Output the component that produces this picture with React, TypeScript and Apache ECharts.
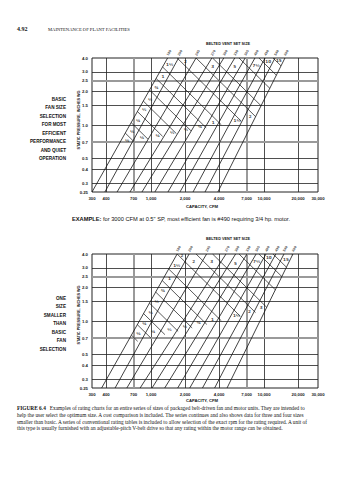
import React, { useEffect, useRef } from "react";
import * as echarts from "echarts";

// ---------- data ----------
const cfmTicks = [300, 400, 700, 1000, 2000, 4000, 7000, 10000, 20000, 30000];
const spTicks = [4.0, 3.0, 2.5, 2.0, 1.5, 1.0, 0.7, 0.5, 0.4, 0.3, 0.25];
const cfmGridLines = [400, 700, 1000, 2000, 4000, 7000, 10000, 20000];
const spGridLines = [3.0, 2.5, 2.0, 1.5, 1.0, 0.7, 0.5, 0.4, 0.3];
const heavyCfmLines = [700, 7000];
const heavySpLines = [2.5, 0.7];

const fanSizes = ["180", "200", "245", "270", "300", "330", "365", "400", "490", "540", "600"];

// basic selection chart: each fan line runs from (bottom CFM @ 0.25") to (top CFM @ 4.0")
const basicFanTopCfm = [1400, 1750, 2500, 3450, 4400, 5500, 6800, 8300, 10200, 12500, 15300];
const basicFanBottomCfm = [300, 390, 500, 650, 830, 1080, 1410, 1800, 2350, 3000, 3900];
const basicRegionFloor = [[510, 0.66], [8300, 1.15]];

// one size smaller chart
const smallerFanTopCfm = [1700, 2170, 3100, 4600, 5600, 7050, 8500, 10400, 12700, 15000, 18000];
const smallerFanBottomCfm = [365, 480, 610, 800, 1020, 1320, 1720, 2200, 2850, 3650, 4700];
const smallerRegionFloor = [[600, 0.62], [10200, 1.25]];

// motor hp limits, expressed as CFM x SP product at the limit line
const hpLabels = ["⅛", "⅙", "¼", "⅓", "½", "¾", "1", "1½", "2", "3", "5", "7½", "10", "15"];
const hpLimitCfmSp = [500, 700, 1000, 1400, 2000, 2900, 4200, 6800, 10000, 14000, 24000, 36000, 48000, 70000];

const captionLines = [
  "Examples of rating charts for an entire series of sizes of packaged belt-driven fan and motor units. They are intended to",
  "help the user select the optimum size. A cost comparison is included. The series continues and also shows data for three and four sizes",
  "smaller than basic. A series of conventional rating tables is included to allow selection of the exact rpm for the rating required. A unit of",
  "this type is usually furnished with an adjustable-pitch V-belt drive so that any rating within the motor range can be obtained.",
];

// ---------- geometry helpers (log space) ----------
const L = (x: number) => Math.log10(x);
const V_MAX = L(4);
const V_MIN = L(0.25);

type Fan = { ub: number; ut: number };
const fanS = (f: Fan) => (f.ut - f.ub) / (V_MAX - V_MIN);
const fanU = (f: Fan, v: number) => f.ub + fanS(f) * (v - V_MIN);
const fanMeetsHp = (f: Fan, w: number) => {
  const s = fanS(f);
  return (w - f.ub + s * V_MIN) / (1 + s);
};

function buildPanel(topCfm: number[], bottomCfm: number[], floor: number[][]) {
  const fans: Fan[] = topCfm.map((t, i) => ({ ub: L(bottomCfm[i]), ut: L(t) }));
  const uA = L(floor[0][0]);
  const vA = L(floor[0][1]);
  const uB = L(floor[1][0]);
  const vB = L(floor[1][1]);
  const m = (vB - vA) / (uB - uA);
  const floorMeetsHp = (w: number) => {
    const u = (w - vA + m * uA) / (1 + m);
    return w - u;
  };
  const fanMeetsFloor = (f: Fan) => {
    const s = fanS(f);
    return (vA + m * (f.ub - s * V_MIN - uA)) / (1 - m * s);
  };

  const fanLines = fans.map((f) => ({ coords: [[f.ub, V_MIN], [f.ut, V_MAX]] }));
  const left = fans[0];
  const right = fans[fans.length - 1];
  const ws = hpLimitCfmSp.map(L);
  const hpLines: any[] = [];
  ws.forEach((w) => {
    const vStart = Math.min(fanMeetsHp(left, w), V_MAX);
    const vEnd = Math.max(fanMeetsHp(right, w), floorMeetsHp(w), V_MIN);
    if (vStart > vEnd + 1e-6) hpLines.push({ coords: [[w - vStart, vStart], [w - vEnd, vEnd]] });
  });

  type Piece = { u: number; v: number; k: number };
  const bands: Piece[][] = [];
  for (let i = 0; i < fans.length - 1; i++) {
    const mid: Fan = { ub: (fans[i].ub + fans[i + 1].ub) / 2, ut: (fans[i].ut + fans[i + 1].ut) / 2 };
    const vBot = Math.max(fanMeetsFloor(mid), V_MIN);
    const cuts = [vBot];
    ws.forEach((w) => {
      const v = fanMeetsHp(mid, w);
      if (v > vBot && v < V_MAX) cuts.push(v);
    });
    cuts.push(V_MAX);
    const pieces: Piece[] = [];
    for (let j = 0; j < cuts.length - 1; j++) {
      const v0 = cuts[j];
      const v1 = cuts[j + 1];
      if (v1 - v0 < 0.03) continue;
      const vm = (v0 + v1) / 2;
      const um = fanU(mid, vm);
      const k = ws.findIndex((x) => um + vm <= x);
      if (k < 0) continue;
      pieces.push({ u: um, v: vm, k });
    }
    bands.push(pieces);
  }
  const labels: { value: number[]; name: string }[] = [];
  const used = new Set<string>();
  const add = (p: Piece) => {
    const key = p.u.toFixed(4) + "," + p.v.toFixed(4);
    if (used.has(key)) return;
    used.add(key);
    labels.push({ value: [p.u, p.v], name: hpLabels[p.k] });
  };
  bands[0].forEach(add);
  const topByK = new Map<number, Piece>();
  const botByK = new Map<number, Piece>();
  bands.forEach((pieces) => {
    if (!pieces.length) return;
    const top = pieces[pieces.length - 1];
    const bot = pieces[0];
    topByK.set(top.k, top);
    botByK.set(bot.k, bot);
  });
  topByK.forEach(add);
  botByK.forEach(add);

  const sizeLabels = fans.map((f, i) => ({ value: [f.ut, V_MAX], name: fanSizes[i] }));
  return { fanLines, hpLines, labels, sizeLabels };
}

const fmtCfm = (v: number) => Math.round(Math.pow(10, v)).toLocaleString("en-US");
const fmtSp = (v: number) => {
  const s = Math.pow(10, v);
  return Math.abs(s - 0.25) < 0.01 ? "0.25" : s.toFixed(1);
};

const SANS = "Liberation Sans, Arial, sans-serif";
const SERIF = "Liberation Serif, Times New Roman, serif";

function gridLineData() {
  const d: any[] = [];
  cfmGridLines.forEach((c) => {
    const heavy = heavyCfmLines.includes(c);
    d.push({
      coords: [[L(c), V_MIN], [L(c), V_MAX]],
      lineStyle: { color: heavy ? "#9a9a9a" : "#222", width: heavy ? 2 : 0.8 },
    });
  });
  spGridLines.forEach((s) => {
    const heavy = heavySpLines.includes(s);
    d.push({
      coords: [[L(300), L(s)], [L(30000), L(s)]],
      lineStyle: { color: heavy ? "#9a9a9a" : "#222", width: heavy ? 2 : 0.8 },
    });
  });
  return d;
}

function panelSeries(g: number, panel: ReturnType<typeof buildPanel>) {
  const common = { xAxisIndex: g, yAxisIndex: g, silent: true };
  return [
    {
      ...common,
      type: "lines",
      coordinateSystem: "cartesian2d",
      polyline: false,
      z: 1,
      lineStyle: { opacity: 1 },
      data: gridLineData(),
    },
    {
      ...common,
      type: "lines",
      coordinateSystem: "cartesian2d",
      polyline: false,
      z: 2,
      lineStyle: { color: "#111", width: 0.8, opacity: 1 },
      data: panel.fanLines,
    },
    {
      ...common,
      type: "lines",
      coordinateSystem: "cartesian2d",
      polyline: false,
      z: 2,
      lineStyle: { color: "#111", width: 0.7, opacity: 1 },
      data: panel.hpLines,
    },
    {
      ...common,
      type: "scatter",
      symbolSize: 1,
      itemStyle: { color: "transparent" },
      clip: false,
      z: 4,
      data: panel.labels,
      label: {
        show: true,
        position: "inside",
        formatter: "{b}",
        fontSize: 4.2,
        fontWeight: "bold",
        fontFamily: "DejaVu Sans, sans-serif",
        color: "#111",
      },
    },
    {
      ...common,
      type: "scatter",
      symbolSize: 1,
      itemStyle: { color: "transparent" },
      clip: false,
      z: 4,
      data: panel.sizeLabels,
      label: {
        show: true,
        position: "top",
        distance: 2,
        rotate: 60,
        align: "left",
        verticalAlign: "middle",
        formatter: "{b}",
        fontSize: 3.6,
        fontWeight: "bold",
        fontFamily: SANS,
        color: "#111",
      },
    },
  ];
}

function axisPair(g: number) {
  const labelStyle = { fontSize: 4.3, fontWeight: "bold", fontFamily: SANS, color: "#222" };
  return {
    x: {
      type: "value",
      gridIndex: g,
      min: L(300),
      max: L(30000),
      axisLine: { show: false },
      axisTick: { show: false },
      splitLine: { show: false },
      axisLabel: {
        ...labelStyle,
        margin: 4,
        customValues: cfmTicks.map(L),
        formatter: (v: number) => fmtCfm(v),
        showMinLabel: true,
        showMaxLabel: true,
      },
    },
    y: {
      type: "value",
      gridIndex: g,
      min: V_MIN,
      max: V_MAX,
      axisLine: { show: false },
      axisTick: { show: false },
      splitLine: { show: false },
      axisLabel: {
        ...labelStyle,
        margin: 4,
        customValues: spTicks.map(L),
        formatter: (v: number) => fmtSp(v),
        showMinLabel: true,
        showMaxLabel: true,
      },
    },
  };
}

function txt(x: number, y: number, text: string, opts: any = {}, extra: any = {}) {
  return {
    type: "text",
    x,
    y,
    silent: true,
    ...extra,
    style: {
      text,
      fill: "#111",
      fontFamily: SANS,
      fontSize: 4.5,
      align: "left",
      verticalAlign: "middle",
      ...opts,
    },
  };
}

function buildOption() {
  const p1 = buildPanel(basicFanTopCfm, basicFanBottomCfm, basicRegionFloor);
  const p2 = buildPanel(smallerFanTopCfm, smallerFanBottomCfm, smallerRegionFloor);
  const a1 = axisPair(0);
  const a2 = axisPair(1);
  const bold = { fontWeight: "bold" };

  const graphic: any[] = [
    txt(17, 29, "4.92", { fontFamily: SERIF, fontSize: 6, fontWeight: "bold" }),
    txt(48, 29, "MAINTENANCE OF PLANT FACILITIES", { fontFamily: SERIF, fontSize: 4.6 }),
    txt(228, 44, "BELTED VENT SET SIZE", { ...bold, fontSize: 3.8, align: "center" }),
    txt(228, 239, "BELTED VENT SET SIZE", { ...bold, fontSize: 3.8, align: "center" }),
    txt(66, 94.75, "BASIC\nFAN SIZE\nSELECTION\nFOR MOST\nEFFICIENT\nPERFORMANCE\nAND QUIET\nOPERATION", {
      ...bold,
      fontSize: 4.6,
      align: "right",
      verticalAlign: "top",
      lineHeight: 8.5,
    }),
    txt(66, 293.75, "ONE\nSIZE\nSMALLER\nTHAN\nBASIC\nFAN\nSELECTION", {
      ...bold,
      fontSize: 4.6,
      align: "right",
      verticalAlign: "top",
      lineHeight: 8.5,
    }),
    txt(79, 120, "STATIC PRESSURE, INCHES WG", { ...bold, fontSize: 3.8, align: "center" }, { rotation: Math.PI / 2 }),
    txt(79, 315, "STATIC PRESSURE, INCHES WG", { ...bold, fontSize: 3.8, align: "center" }, { rotation: Math.PI / 2 }),
    txt(202, 206, "CAPACITY, CFM", { ...bold, fontSize: 4.2, align: "center" }),
    txt(202, 400, "CAPACITY, CFM", { ...bold, fontSize: 4.2, align: "center" }),
    txt(
      72,
      219,
      "{b|EXAMPLE:} for 3000 CFM at 0.5\" SP, most efficient fan is #490 requiring 3/4 hp. motor.",
      { fontSize: 5.7, rich: { b: { fontWeight: "bold", fontSize: 5.7, fontFamily: SANS } } }
    ),
  ];
  const capY = [408, 415, 421.5, 428];
  captionLines.forEach((line, i) => {
    graphic.push(
      txt(
        17,
        capY[i],
        i === 0 ? "{b|FIGURE 6.4}   " + line : line,
        {
          fontFamily: SERIF,
          fontSize: 5.35,
          rich: { b: { fontWeight: "bold", fontFamily: SERIF, fontSize: 5.35 } },
        }
      )
    );
  });

  return {
    animation: false,
    backgroundColor: "#fff",
    grid: [
      { left: 92, top: 58, width: 226, height: 134, show: true, borderColor: "#222", borderWidth: 1, backgroundColor: "transparent" },
      { left: 92, top: 254, width: 226, height: 134, show: true, borderColor: "#222", borderWidth: 1, backgroundColor: "transparent" },
    ],
    xAxis: [a1.x, a2.x],
    yAxis: [a1.y, a2.y],
    series: [...panelSeries(0, p1), ...panelSeries(1, p2)],
    graphic,
  };
}

export default function App() {
  const ref = useRef<HTMLDivElement>(null);
  useEffect(() => {
    if (!ref.current) return;
    const chart = echarts.init(ref.current, null, { renderer: "svg" });
    chart.setOption(buildOption() as any);
    return () => chart.dispose();
  }, []);
  return (
    <div
      ref={ref}
      style={{ position: "absolute", left: 0, top: 0, width: 353, height: 480, background: "#fff" }}
    />
  );
}
